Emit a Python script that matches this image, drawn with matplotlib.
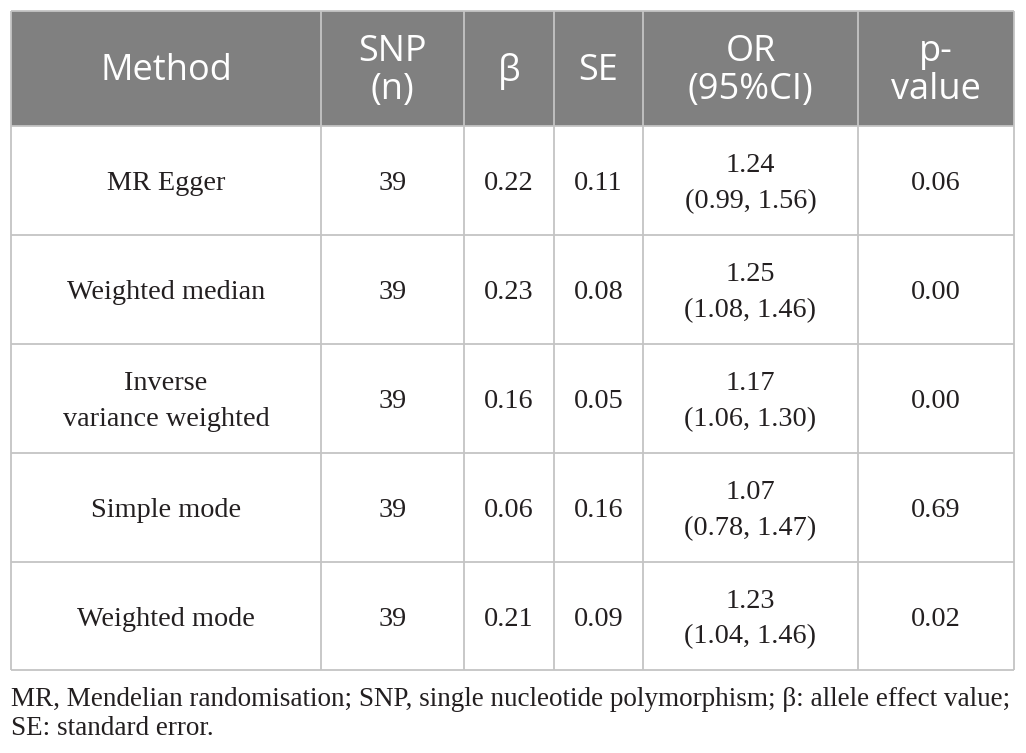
import matplotlib
matplotlib.use("Agg")
import matplotlib.pyplot as plt
from matplotlib.patches import Rectangle

# ---- data ----
headers = ["Method", "SNP\n(n)", "β", "SE", "OR\n(95%CI)", "p-\nvalue"]
methods = ["MR Egger", "Weighted median", "Inverse\nvariance weighted", "Simple mode", "Weighted mode"]
snp_n = [39, 39, 39, 39, 39]
beta = ["0.22", "0.23", "0.16", "0.06", "0.21"]
se = ["0.11", "0.08", "0.05", "0.16", "0.09"]
or_vals = ["1.24", "1.25", "1.17", "1.07", "1.23"]
ci = ["(0.99, 1.56)", "(1.08, 1.46)", "(1.06, 1.30)", "(0.78, 1.47)", "(1.04, 1.46)"]
pvals = ["0.06", "0.00", "0.00", "0.69", "0.02"]
footnote = ("MR, Mendelian randomisation; SNP, single nucleotide polymorphism; β: allele effect value;\n"
            "SE: standard error.")

# ---- layout (pixels) ----
W, H = 1026, 753
col_edges = [11, 321, 464, 554, 643, 858, 1014]
row_edges = [11, 126, 235, 344, 453, 562, 670]
header_color = "#808080"
line_color = "#c4c4c4"

fig = plt.figure(figsize=(W / 100, H / 100), dpi=100)
ax = fig.add_axes([0, 0, 1, 1])
ax.set_xlim(0, W)
ax.set_ylim(H, 0)
ax.axis("off")

# header background
ax.add_patch(Rectangle((col_edges[0], row_edges[0]), col_edges[-1] - col_edges[0],
                       row_edges[1] - row_edges[0], facecolor=header_color, edgecolor="none"))

# grid lines
for x in col_edges:
    ax.plot([x, x], [row_edges[0], row_edges[-1]], color=line_color, lw=1.3, solid_capstyle="butt")
for y in row_edges:
    ax.plot([col_edges[0], col_edges[-1]], [y, y], color=line_color, lw=1.3, solid_capstyle="butt")

def cx(i):
    return (col_edges[i] + col_edges[i + 1]) / 2

def cy(j):
    return (row_edges[j] + row_edges[j + 1]) / 2

hfont = dict(family=["Open Sans", "DejaVu Sans"], fontsize=26, color="white")
for i, h in enumerate(headers):
    ax.text(cx(i), cy(0) + 2.5, h, ha="center", va="center", linespacing=1.09, **hfont)

bfont = dict(family=["Liberation Serif", "DejaVu Serif"], fontsize=20.3, color="#231f20")
for r in range(len(methods)):
    j = r + 1
    cells = [methods[r], str(snp_n[r]), beta[r], se[r], or_vals[r] + "\n" + ci[r], pvals[r]]
    for i, c in enumerate(cells):
        ax.text(cx(i), cy(j) + 3, c, ha="center", va="center", linespacing=1.56, **bfont)

ax.text(11, 714, footnote, ha="left", va="center", linespacing=1.25,
        family=["Liberation Serif", "DejaVu Serif"], fontsize=19.5, color="#231f20")

fig.savefig("out.png", dpi=100)
